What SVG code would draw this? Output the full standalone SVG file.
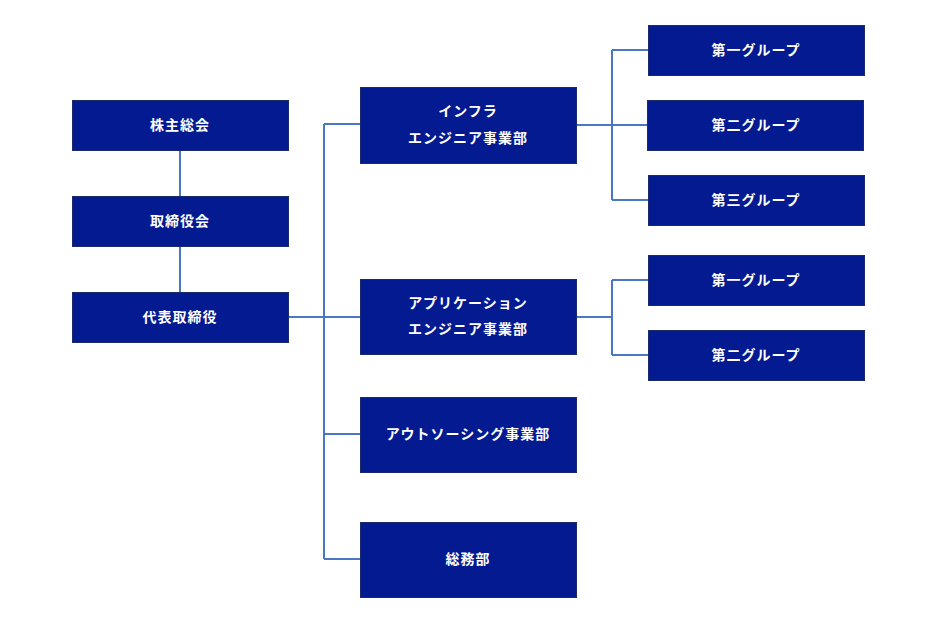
<svg xmlns="http://www.w3.org/2000/svg" width="932" height="629" viewBox="0 0 932 629">
<style>
.b{fill:#041a91;stroke:#1a2a6a;stroke-width:1}
.t{fill:#fff;font-family:"Noto Sans CJK JP",sans-serif;font-size:14px;font-weight:bold;text-anchor:middle;letter-spacing:1px}
.c{fill:none;stroke:#4a76c4;stroke-width:2}
</style>
<rect width="932" height="629" fill="#fff"/>
<g id="connectors">
<path class="c" d="M180 150V196M180 246V292M288 317H360M324 124V559M324 124H360M324 434H360M324 559H360"/>
<path class="c" d="M576 125H648M612 50V200M612 50H648M612 200H648M576 317H612M612 280V355M612 280H648M612 355H648"/>
</g>
<g id="n1"><rect class="b" x="72.5" y="100.5" width="216" height="50"/><text class="t" x="180" y="130">株主総会</text></g>
<g id="n2"><rect class="b" x="72.5" y="196.5" width="216" height="50"/><text class="t" x="180" y="226">取締役会</text></g>
<g id="n3"><rect class="b" x="72.5" y="292.5" width="216" height="50"/><text class="t" x="180" y="322">代表取締役</text></g>
<g id="m1"><rect class="b" x="360.5" y="87.5" width="216" height="76"/><text class="t" x="468" y="116">インフラ</text><text class="t" x="468" y="143">エンジニア事業部</text></g>
<g id="m2"><rect class="b" x="360.5" y="279.5" width="216" height="75"/><text class="t" x="468" y="308">アプリケーション</text><text class="t" x="468" y="334">エンジニア事業部</text></g>
<g id="m3"><rect class="b" x="360.5" y="397.5" width="216" height="75"/><text class="t" x="468" y="439">アウトソーシング事業部</text></g>
<g id="m4"><rect class="b" x="360.5" y="522.5" width="216" height="75"/><text class="t" x="468" y="564">総務部</text></g>
<g id="r1"><rect class="b" x="648.5" y="25.5" width="216" height="50"/><text class="t" x="756" y="55">第一グループ</text></g>
<g id="r2"><rect class="b" x="647.5" y="100.5" width="216" height="50"/><text class="t" x="756" y="130">第二グループ</text></g>
<g id="r3"><rect class="b" x="648.5" y="175.5" width="216" height="50"/><text class="t" x="756" y="205">第三グループ</text></g>
<g id="r4"><rect class="b" x="648.5" y="255.5" width="216" height="50"/><text class="t" x="756" y="285">第一グループ</text></g>
<g id="r5"><rect class="b" x="648.5" y="330.5" width="216" height="50"/><text class="t" x="756" y="360">第二グループ</text></g>
</svg>
